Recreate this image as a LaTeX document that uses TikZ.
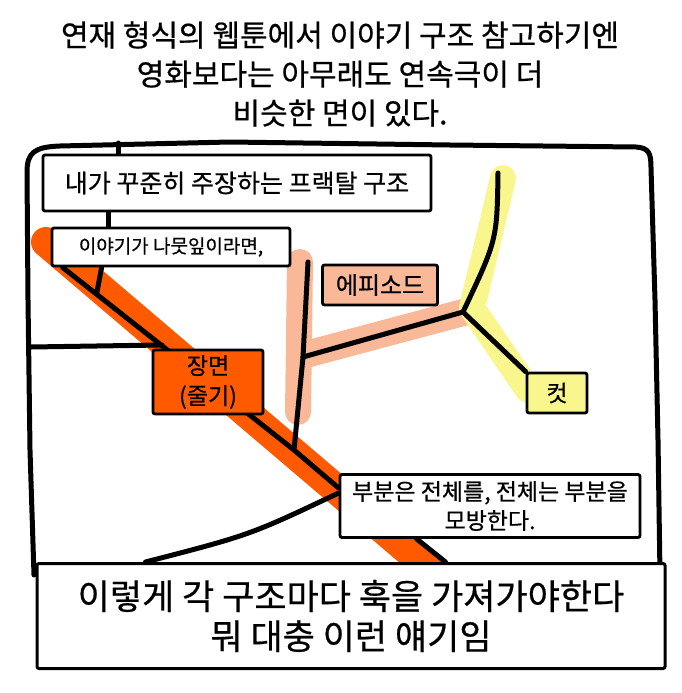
\documentclass[tikz,border=0pt]{standalone}
\usepackage{fontspec}
\newfontfamily\hand[FakeBold=0.6]{Noto Sans CJK KR}
\usetikzlibrary{positioning,calc}
\definecolor{stemorange}{HTML}{FF5A00}
\definecolor{epipeach}{HTML}{F9B898}
\definecolor{cutyellow}{HTML}{FAF68E}
\pgfdeclarelayer{bands}
\pgfdeclarelayer{lines}
\pgfsetlayers{bands,lines,main}
\tikzset{
  label box/.style={draw, line width=2.8pt, fill=white, rounded corners=2pt,
    inner sep=0pt, align=center},
  ink/.style={line width=5pt, line cap=round, line join=round},
  band/.style={line width=#1, line cap=round, line join=round},
}
\newcommand{\handsize}[2]{\hand\fontsize{#1}{#2}\selectfont}

\begin{document}
\begin{tikzpicture}[x=1pt,y=-1pt]
  \useasboundingbox (0,0) rectangle (681,693);
  % ── title ──
  \node[font=\handsize{30}{39}, align=center] (title) at (340,74)
    {연재 형식의 웹툰에서 이야기 구조 참고하기엔\\영화보다는 아무래도 연속극이 더\\비슷한 면이 있다.};
  %
  % ── boxes ──
  \node[label box, minimum width=388, minimum height=56, font=\handsize{25}{30}] (frac) at (237,183)
    {내가 꾸준히 주장하는 프랙탈 구조};
  \node[label box, minimum width=238, minimum height=38, font=\handsize{19}{26}] (leaf) at (171,247)
    {이야기가 나뭇잎이라면,};
  \node[label box, fill=epipeach, minimum width=115, minimum height=40, font=\handsize{24}{28}] (epi) at (380,285)
    {에피소드};
  \node[label box, fill=stemorange, minimum width=110, minimum height=64, font=\handsize{23}{30}] (scene) at (208,382)
    {장면\\(줄기)};
  \node[label box, fill=cutyellow, minimum width=60, minimum height=40, font=\handsize{23}{28}] (cut) at (557,393)
    {컷};
  \node[label box, minimum width=300, minimum height=63, font=\handsize{23}{29}] (part) at (490,506)
    {부분은 전체를, 전체는 부분을\\모방한다.};
  \node[label box, line width=3pt, minimum width=628, minimum height=105, font=\handsize{35}{40}] (caption) at (351,616)
    {이렇게 각 구조마다 훅을 가져가야한다\\뭐 대충 이런 얘기임};
  %
  % ── free ends and joints ──
  \coordinate (stub) at (118,143);
  \coordinate (lf) at (31,347);
  \coordinate (j0) at (162,345);
  \coordinate (j1) at (97,292);
  \coordinate (j2) at (294,450);
  \coordinate (etop) at (308,262);
  \coordinate (ej) at (303,357);
  \coordinate (fk) at (463,312);
  \coordinate (ytop) at (498,173);
  %
  % ── coloured bands ──
  \begin{pgfonlayer}{bands}
    \draw[band=30pt, stemorange] (46,242) -- (450,586);
    \draw[band=26pt, epipeach] (300,262) -- (298,412);
    \draw[band=27pt, epipeach, line cap=butt] (300,356) -- (465,312);
    \draw[band=26pt, cutyellow] (503,178) -- (472,308) -- (528,390);
  \end{pgfonlayer}
  %
  % ── ink lines ──
  \begin{pgfonlayer}{lines}
    % frame
    \draw[ink] (34,575) -- (30,450) -- (28,300) -- (27,172)
      .. controls (27,152) and (35,147) .. (60,146) -- (230,142) -- (450,145) -- (636,147)
      .. controls (649,148) and (651,153) .. (651,168) -- (655,300) -- (658,440) -- (660,575);
    \draw[ink] (stub) -- (stub |- frac.north);
    \draw[ink] ([xshift=67]frac.south west) -- ([xshift=58]leaf.north west);
    % stem
    \draw[ink] ([xshift=12]leaf.south west) -- (scene.center) -- (j2) -- ([yshift=18]part.west);
    \draw[ink] ([xshift=51]leaf.south west) -- (j1);
    \draw[ink] (lf) -- (j0);
    \draw[ink] ([xshift=78]part.south west) -- ([xshift=410]caption.north west);
    \draw[ink] ([xshift=110]caption.north west) .. controls (250,535) .. ([yshift=13]part.west);
    % episode
    \draw[ink] (etop) -- (ej) -- (j2);
    \draw[ink] (ej) -- (fk);
    % cut
    \draw[ink] (ytop) .. controls (497,240) .. (fk) -- (cut.north west);
  \end{pgfonlayer}
\end{tikzpicture}
\end{document}
